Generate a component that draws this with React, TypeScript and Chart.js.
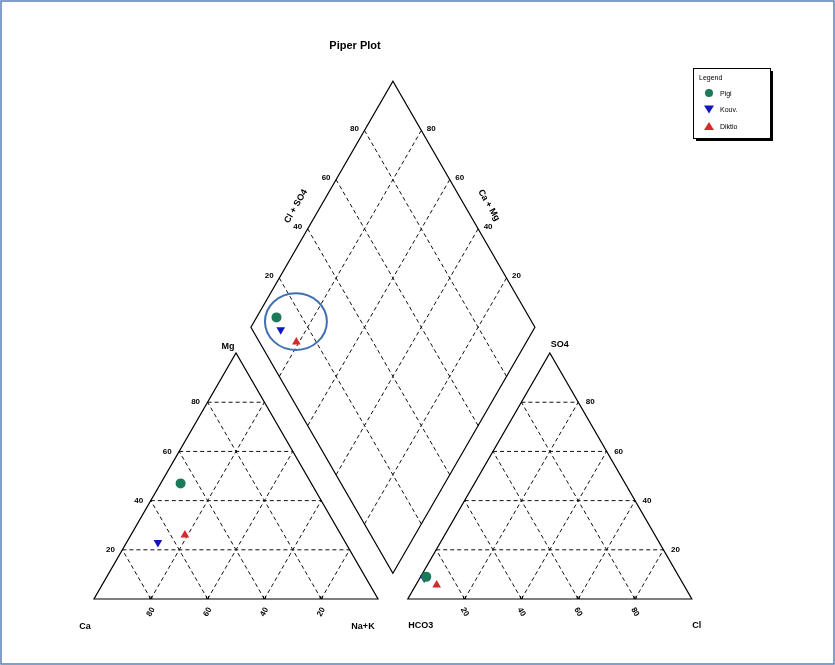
import React, { useEffect, useRef } from "react";
import { Chart, registerables } from "chart.js";
Chart.register(...registerables);

// ---- data (percent of meq) ----
const sampleNames = ["Pigi", "Kouv.", "Diktio"];
const caPct = [46, 66, 55];
const mgPct = [47, 23, 26];
const naKPct = [7, 11, 19];
const so4Pct = [9, 8.5, 5.7];
const clPct = [2, 1.5, 7.3];
const hco3Pct = [89, 90, 87];
const gridTicks = [20, 40, 60, 80];
const cationBottomLabels = ["80", "60", "40", "20"];
const anionBottomLabels = ["20", "40", "60", "80"];

const colors = ["#1b7a57", "#1414c4", "#d42a2a"];
const pointStyles = ["circle", "triangle", "triangle"];
const rotations = [0, 180, 0];

// ---- geometry (units) ----
const SIDE = 100;
const GAP = 10.5;
const H = Math.sqrt(3) / 2;
const BX = SIDE + GAP / 2;
const BY = GAP * H;
const RX0 = SIDE + GAP;

const cationXY = (i: number) => {
  const t = caPct[i] + mgPct[i] + naKPct[i];
  const mg = (mgPct[i] / t) * 100;
  const na = (naKPct[i] / t) * 100;
  return { x: na + mg / 2, y: mg * H };
};
const anionXY = (i: number) => {
  const t = so4Pct[i] + clPct[i] + hco3Pct[i];
  const so4 = (so4Pct[i] / t) * 100;
  const cl = (clPct[i] / t) * 100;
  return { x: RX0 + cl + so4 / 2, y: so4 * H };
};
const diamondXY = (i: number) => {
  const tc = caPct[i] + mgPct[i] + naKPct[i];
  const ta = so4Pct[i] + clPct[i] + hco3Pct[i];
  const a = ((caPct[i] + mgPct[i]) / tc) * 100;
  const b = ((so4Pct[i] + clPct[i]) / ta) * 100;
  return { x: BX + 0.5 * (b - a), y: BY + H * (a + b) };
};

// highlight ellipse around diamond points (data units)
const circleCenter = [71.1, 97.7];
const circleRadii = [10.9, 10.0];

const FONT = "'Liberation Sans', Arial, sans-serif";

const pipperPlugin = {
  id: "piper",
  beforeDraw(chart: any) {
    const ctx = chart.ctx;
    ctx.save();
    ctx.fillStyle = "#ffffff";
    ctx.fillRect(0, 0, chart.width, chart.height);
    ctx.restore();
  },
  beforeDatasetsDraw(chart: any) {
    const ctx = chart.ctx as CanvasRenderingContext2D;
    const sx = chart.scales.x;
    const sy = chart.scales.y;
    const P = (x: number, y: number): [number, number] => [sx.getPixelForValue(x), sy.getPixelForValue(y)];
    const line = (a: [number, number], b: [number, number]) => {
      ctx.beginPath();
      ctx.moveTo(a[0], a[1]);
      ctx.lineTo(b[0], b[1]);
      ctx.stroke();
    };
    const poly = (pts: [number, number][]) => {
      ctx.beginPath();
      ctx.moveTo(pts[0][0], pts[0][1]);
      for (let k = 1; k < pts.length; k++) ctx.lineTo(pts[k][0], pts[k][1]);
      ctx.closePath();
      ctx.stroke();
    };
    const text = (s: string, p: [number, number], font: string, rot = 0, align: CanvasTextAlign = "center") => {
      ctx.save();
      ctx.translate(p[0], p[1]);
      ctx.rotate((rot * Math.PI) / 180);
      ctx.font = font;
      ctx.fillStyle = "#000";
      ctx.textAlign = align;
      ctx.textBaseline = "middle";
      ctx.fillText(s, 0, 0);
      ctx.restore();
    };

    ctx.save();
    // frame
    ctx.strokeStyle = "#5b7fb8";
    ctx.lineWidth = 1.5;
    ctx.strokeRect(1, 1, chart.width - 2, chart.height - 2);

    // dashed grids
    ctx.strokeStyle = "#111";
    ctx.lineWidth = 1;
    ctx.setLineDash([4, 3]);
    for (const k of gridTicks) {
      // left triangle
      line(P(k / 2, k * H), P(SIDE - k / 2, k * H));
      line(P(k, 0), P(k + (SIDE - k) / 2, (SIDE - k) * H));
      line(P(k, 0), P(k / 2, k * H));
      // right triangle
      line(P(RX0 + k / 2, k * H), P(RX0 + SIDE - k / 2, k * H));
      line(P(RX0 + k, 0), P(RX0 + k + (SIDE - k) / 2, (SIDE - k) * H));
      line(P(RX0 + k, 0), P(RX0 + k / 2, k * H));
      // diamond
      line(P(BX + 0.5 * k, BY + H * k), P(BX + 0.5 * k - 0.5 * SIDE, BY + H * k + H * SIDE));
      line(P(BX - 0.5 * k, BY + H * k), P(BX - 0.5 * k + 0.5 * SIDE, BY + H * k + H * SIDE));
    }
    ctx.setLineDash([]);

    // outlines
    ctx.lineWidth = 1.2;
    ctx.strokeStyle = "#000";
    poly([P(0, 0), P(SIDE, 0), P(SIDE / 2, SIDE * H)]);
    poly([P(RX0, 0), P(RX0 + SIDE, 0), P(RX0 + SIDE / 2, SIDE * H)]);
    poly([P(BX, BY), P(BX + SIDE / 2, BY + SIDE * H), P(BX, BY + 2 * SIDE * H), P(BX - SIDE / 2, BY + SIDE * H)]);

    // bottom tick marks
    ctx.lineWidth = 1;
    gridTicks.forEach((k) => {
      for (const x0 of [k, RX0 + k]) {
        const p = P(x0, 0);
        line([p[0] - 1, p[1]], [p[0] - 1, p[1] - 3]);
        line([p[0] + 1, p[1]], [p[0] + 1, p[1] - 3]);
      }
    });

    const tickFont = `bold 8px ${FONT}`;
    const vFont = `bold 9px ${FONT}`;
    gridTicks.forEach((k, j) => {
      // bottom labels
      const pb = P(k, 0);
      text(cationBottomLabels[j], [pb[0], pb[1] + 13], tickFont, -60);
      const pr = P(RX0 + k, 0);
      text(anionBottomLabels[j], [pr[0], pr[1] + 13], tickFont, 60);
      // left edge of cation triangle (Mg)
      const pm = P(k / 2, k * H);
      text(String(k), [pm[0] - 12, pm[1]], tickFont);
      // right edge of anion triangle (SO4)
      const ps = P(RX0 + SIDE - k / 2, k * H);
      text(String(k), [ps[0] + 12, ps[1]], tickFont);
      // diamond upper-left edge (Cl + SO4)
      const pdl = P(BX - SIDE / 2 + k / 2, BY + SIDE * H + k * H);
      text(String(k), [pdl[0] - 10, pdl[1] - 2], tickFont);
      // diamond upper-right edge (Ca + Mg)
      const pdr = P(BX + SIDE / 2 - k / 2, BY + SIDE * H + k * H);
      text(String(k), [pdr[0] + 10, pdr[1] - 2], tickFont);
    });

    // vertex labels
    const c0 = P(0, 0);
    const c1 = P(SIDE, 0);
    const a0 = P(RX0, 0);
    const a1 = P(RX0 + SIDE, 0);
    const mgTop = P(SIDE / 2, SIDE * H);
    const soTop = P(RX0 + SIDE / 2, SIDE * H);
    text("Ca", [c0[0] - 9, c0[1] + 28], vFont);
    text("Na+K", [c1[0] - 15, c1[1] + 28], vFont);
    text("HCO3", [a0[0] + 13, a0[1] + 27], vFont);
    text("Cl", [a1[0] + 5, a1[1] + 27], vFont);
    text("Mg", [mgTop[0] - 8, mgTop[1] - 7], vFont);
    text("SO4", [soTop[0] + 10, soTop[1] - 9], vFont);

    // diamond axis titles
    const lt = P(BX - SIDE / 2 + 50 / 2, BY + SIDE * H + 50 * H);
    text("Cl + SO4", [lt[0] - 26, lt[1] + 2], vFont, -60);
    const rt = P(BX + SIDE / 2 - 50 / 2, BY + SIDE * H + 50 * H);
    text("Ca + Mg", [rt[0] + 25, rt[1] + 1], vFont, 60);

    // title
    text("Piper Plot", [355, 46], `bold 11px ${FONT}`);
    ctx.restore();
  },
  afterDatasetsDraw(chart: any) {
    const ctx = chart.ctx as CanvasRenderingContext2D;
    const sx = chart.scales.x;
    const sy = chart.scales.y;
    ctx.save();
    // highlight ellipse
    const cx = sx.getPixelForValue(circleCenter[0]);
    const cy = sy.getPixelForValue(circleCenter[1]);
    const rx = Math.abs(sx.getPixelForValue(circleCenter[0] + circleRadii[0]) - cx);
    const ry = Math.abs(sy.getPixelForValue(circleCenter[1] + circleRadii[1]) - cy);
    ctx.strokeStyle = "#3f6fb0";
    ctx.lineWidth = 2;
    ctx.beginPath();
    ctx.ellipse(cx, cy, rx, ry, 0, 0, Math.PI * 2);
    ctx.stroke();

    // legend box
    const bx = 693, by = 68, bw = 77, bh = 70;
    ctx.fillStyle = "#000";
    ctx.fillRect(bx + 3, by + 3, bw, bh);
    ctx.fillStyle = "#fff";
    ctx.fillRect(bx, by, bw, bh);
    ctx.strokeStyle = "#000";
    ctx.lineWidth = 1;
    ctx.strokeRect(bx + 0.5, by + 0.5, bw, bh);
    ctx.fillStyle = "#000";
    ctx.font = `7px ${FONT}`;
    ctx.textBaseline = "middle";
    ctx.textAlign = "left";
    ctx.fillText("Legend", bx + 6, by + 10);
    chart.data.datasets.forEach((ds: any, i: number) => {
      const y = by + 25 + i * 16.5;
      const x = bx + 16;
      ctx.fillStyle = ds.backgroundColor;
      ctx.beginPath();
      if (ds.pointStyle === "circle") {
        ctx.arc(x, y, 4, 0, Math.PI * 2);
      } else if (ds.pointRotation === 180) {
        ctx.moveTo(x - 5, y - 4);
        ctx.lineTo(x + 5, y - 4);
        ctx.lineTo(x, y + 4);
      } else {
        ctx.moveTo(x - 5, y + 4);
        ctx.lineTo(x + 5, y + 4);
        ctx.lineTo(x, y - 4);
      }
      ctx.closePath();
      ctx.fill();
      ctx.fillStyle = "#000";
      ctx.font = `7px ${FONT}`;
      ctx.fillText(ds.label, bx + 27, y + 1);
    });
    ctx.restore();
  },
};

export default function App() {
  const ref = useRef<HTMLCanvasElement | null>(null);
  useEffect(() => {
    if (!ref.current) return;
    const datasets = sampleNames.map((name, i) => ({
      label: name,
      data: [cationXY(i), anionXY(i), diamondXY(i)],
      backgroundColor: colors[i],
      borderColor: colors[i],
      pointStyle: pointStyles[i],
      pointRotation: rotations[i],
      pointRadius: 5,
      pointBorderWidth: 0,
      showLine: false,
    }));
    const chart = new Chart(ref.current, {
      type: "scatter",
      data: { datasets: datasets as any },
      options: {
        animation: false,
        responsive: false,
        devicePixelRatio: 1,
        layout: { padding: 0, autoPadding: false },
        plugins: { legend: { display: false }, title: { display: false }, tooltip: { enabled: false } },
        scales: {
          x: { type: "linear", min: -94 / 2.84, max: 741 / 2.84, display: false },
          y: { type: "linear", min: -66 / 2.84, max: 599 / 2.84, display: false },
        },
      },
      plugins: [pipperPlugin],
    });
    return () => chart.destroy();
  }, []);
  return (
    <div style={{ position: "fixed", left: 0, top: 0, width: 835, height: 665, background: "#fff" }}>
      <canvas ref={ref} width={835} height={665} style={{ width: 835, height: 665, display: "block" }} />
    </div>
  );
}
